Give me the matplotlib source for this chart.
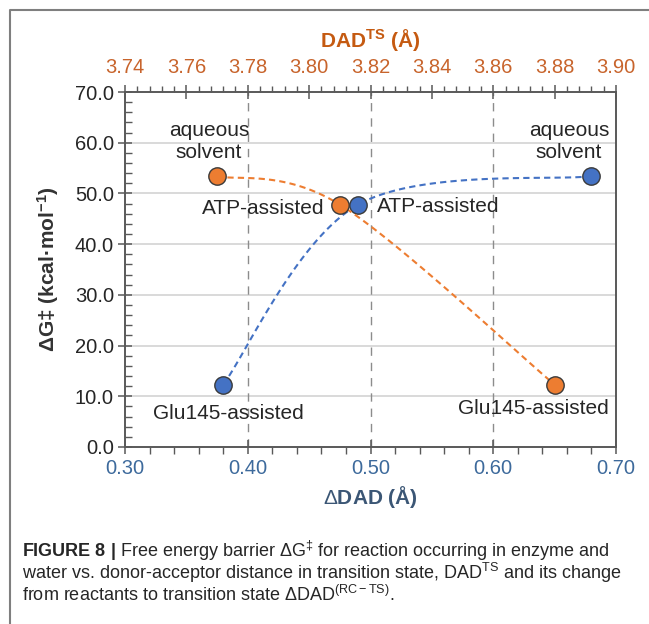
import numpy as np
import matplotlib
matplotlib.use("Agg")
import matplotlib.pyplot as plt
from matplotlib.lines import Line2D
from matplotlib.ticker import MultipleLocator, FormatStrFormatter

plt.rcParams['font.family'] = ['Liberation Sans', 'DejaVu Sans']
plt.rcParams['mathtext.fontset'] = 'custom'
plt.rcParams['mathtext.rm'] = 'Liberation Sans'
plt.rcParams['mathtext.it'] = 'Liberation Sans:italic'
plt.rcParams['mathtext.bf'] = 'Liberation Sans:bold'

# data
labels = ['aqueous solvent', 'ATP-assisted', 'Glu145-assisted']
ddad = [0.68, 0.49, 0.38]           # bottom axis, blue
dg_blue = [53.4, 47.8, 12.3]
dad_ts = [3.77, 3.81, 3.88]         # top axis, orange
dg_orange = [53.4, 47.8, 12.3]

BLUE = '#4472C4'
ORANGE = '#ED7D31'
W, H = 649, 624


def smooth(ax, xs, ys, n=60):
    """Excel-like smoothed connector (Catmull-Rom bezier in display space)."""
    order = np.argsort(xs)
    pts = ax.transData.transform(np.column_stack([np.asarray(xs)[order],
                                                  np.asarray(ys)[order]]))
    out = []
    for i in range(len(pts) - 1):
        p0 = pts[max(i - 1, 0)]
        p1 = pts[i]
        p2 = pts[i + 1]
        p3 = pts[min(i + 2, len(pts) - 1)]
        c1 = p1 + (p2 - p0) / 6.0
        c2 = p2 - (p3 - p1) / 6.0
        t = np.linspace(0, 1, n)[:, None]
        seg = ((1 - t) ** 3) * p1 + 3 * ((1 - t) ** 2) * t * c1 \
            + 3 * (1 - t) * t ** 2 * c2 + t ** 3 * p2
        out.append(seg)
    curve = ax.transData.inverted().transform(np.vstack(out))
    return curve[:, 0], curve[:, 1]


fig = plt.figure(figsize=(W / 100, H / 100), dpi=100)
ax = fig.add_axes([125 / W, 1 - 447 / H, (616 - 125) / W, (447 - 92) / H])
ax2 = ax.twiny()

ax.set_xlim(0.30, 0.70)
ax.set_ylim(0, 70)
ax2.set_xlim(3.74, 3.90)

# grid
for v in range(10, 70, 10):
    ax.axhline(v, color='#d9d9d9', lw=1.4, zorder=0)
for v in [0.40, 0.50, 0.60]:
    ax.axvline(v, color='#8c8c8c', lw=1.0, ls=(0, (6, 5)), zorder=0)

# curves (need final transforms)
fig.canvas.draw()
bx, by = smooth(ax, ddad, dg_blue)
ax.plot(bx, by, color=BLUE, lw=1.5, ls=(0, (3, 2)), zorder=2)
ox, oy = smooth(ax2, dad_ts, dg_orange)
ax2.plot(ox, oy, color=ORANGE, lw=1.5, ls=(0, (3, 2)), zorder=2)

ax.plot(ddad, dg_blue, 'o', ms=12.5, mfc=BLUE, mec='#3a3a3a', mew=1.0, zorder=5)
ax2.plot(dad_ts, dg_orange, 'o', ms=12.5, mfc=ORANGE, mec='#3a3a3a', mew=1.0, zorder=5)

# point labels
fs = 15
tc = '#262626'
ax.text(0.3685, 60.3, 'aqueous\nsolvent', ha='center', va='center', fontsize=fs,
        color=tc, linespacing=1.2)
ax.text(0.6616, 60.3, 'aqueous\nsolvent', ha='center', va='center', fontsize=fs,
        color=tc, linespacing=1.2)
ax.text(0.4627, 47.1, 'ATP-assisted', ha='right', va='center', fontsize=fs, color=tc)
ax.text(0.505, 47.4, 'ATP-assisted', ha='left', va='center', fontsize=fs, color=tc)
ax.text(0.384, 6.7, 'Glu145-assisted', ha='center', va='center', fontsize=fs, color=tc)
ax.text(0.6326, 7.5, 'Glu145-assisted', ha='center', va='center', fontsize=fs, color=tc)

# ticks and spines
for a in (ax, ax2):
    for s in a.spines.values():
        s.set_color('#595959')
        s.set_linewidth(1.2)

ax.xaxis.set_major_locator(MultipleLocator(0.10))
ax.xaxis.set_minor_locator(MultipleLocator(0.02))
ax.xaxis.set_major_formatter(FormatStrFormatter('%.2f'))
ax.yaxis.set_major_locator(MultipleLocator(10))
ax.yaxis.set_minor_locator(MultipleLocator(2))
ax.yaxis.set_major_formatter(FormatStrFormatter('%.1f'))
ax2.xaxis.set_major_locator(MultipleLocator(0.02))
ax2.xaxis.set_minor_locator(MultipleLocator(0.004))
ax2.xaxis.set_major_formatter(FormatStrFormatter('%.2f'))

ax.tick_params(axis='x', which='major', direction='inout', length=10, width=1.1,
               color='#595959', labelsize=14.5, labelcolor='#3d6a9c', pad=4)
ax.tick_params(axis='x', which='minor', direction='out', length=5, width=1.0, color='#595959')
ax.tick_params(axis='y', which='major', direction='inout', length=10, width=1.1,
               color='#595959', labelsize=14.5, labelcolor='#262626', pad=3)
ax.tick_params(axis='y', which='minor', direction='in', length=5, width=1.0, color='#595959')
ax2.tick_params(axis='x', which='major', direction='inout', length=10, width=1.1,
                color='#595959', labelsize=14.5, labelcolor='#c8642c', pad=6)
ax2.tick_params(axis='x', which='minor', direction='out', length=4, width=1.0, color='#595959')

ax.set_xlabel(r'$\Delta$DAD (Å)', fontsize=15, fontweight='bold', color='#3b5675', labelpad=4)
ax.set_ylabel(r'ΔG‡ (kcal·mol$^{\mathbf{-1}}$)', fontsize=15, fontweight='bold',
              color='#333333', labelpad=10)
ax2.set_xlabel(r'DAD$^{\mathbf{TS}}$ (Å)', fontsize=15, fontweight='bold',
               color='#c55a11', labelpad=8)

# frame around the panel
fig.add_artist(Line2D([10 / W, 10 / W, 1.0], [0.0, 1 - 10 / H, 1 - 10 / H],
                      transform=fig.transFigure, color='#7f7f7f', lw=1.5))

# caption
cap_fs = 13
x0 = 22 / W
fig.text(x0, 1 - 557 / H,
         r'$\mathbf{FIGURE\ 8\ |}$ Free energy barrier $\Delta$G$^{\ddag}$ for reaction occurring in enzyme and',
         fontsize=cap_fs, color=tc, va='baseline')
fig.text(x0, 1 - 579 / H,
         r'water vs. donor-acceptor distance in transition state, DAD$^{\mathrm{TS}}$ and its change',
         fontsize=cap_fs, color=tc, va='baseline')
fig.text(x0, 1 - 601 / H,
         r'from reactants to transition state $\Delta$DAD$^{\mathrm{(RC-TS)}}$.',
         fontsize=cap_fs, color=tc, va='baseline')

fig.savefig('out.png', dpi=100)
